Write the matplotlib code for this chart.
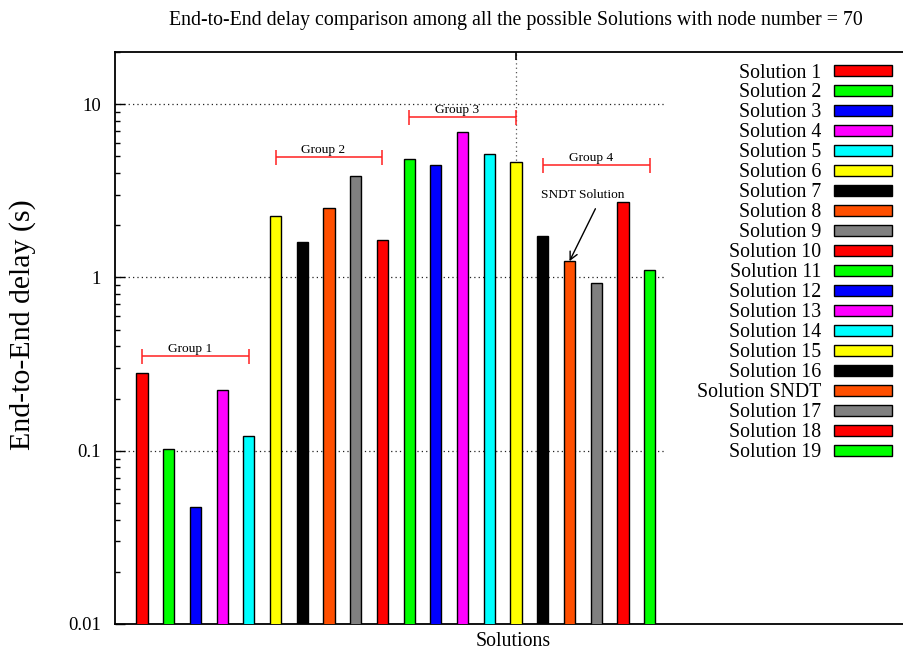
import numpy as np
import matplotlib
matplotlib.use("Agg")
import matplotlib.pyplot as plt

plt.rcParams["font.family"] = ["Liberation Serif", "DejaVu Serif"]

# End-to-end delay (s) per solution, node number = 70
labels = ["Solution %d" % i for i in range(1, 17)] + ["Solution SNDT"] + \
         ["Solution %d" % i for i in range(17, 20)]
delays = [0.279, 0.102, 0.0472, 0.223, 0.121,
          2.26, 1.60, 2.53, 3.85, 1.64,
          4.80, 4.45, 6.87, 5.17, 4.65,
          1.73, 1.24, 0.929, 2.73, 1.10]
palette = ["#ff0000", "#00ff00", "#0000ff", "#ff00ff", "#00ffff",
           "#ffff00", "#000000", "#ff4f00", "#808080"]

# groups: first and last bar index, bracket height
group_names = ["Group 1", "Group 2", "Group 3", "Group 4"]
group_start = [0, 5, 10, 15]
group_end = [4, 9, 14, 19]
group_level = [0.352, 4.95, 8.41, 4.45]

sndt_index = 16

fig = plt.figure(figsize=(9.04, 6.51), dpi=100)
ax = fig.add_axes([0.1275, 0.0415, 0.8725, 0.8787])
ax.set_yscale("log")

x = np.arange(len(delays))
colors = [palette[i % len(palette)] for i in range(len(delays))]
bars = ax.bar(x, delays, width=0.42, color=colors, edgecolor="black",
              linewidth=1.0, zorder=3)
for b, lab in zip(bars, labels):
    b.set_label(lab)

ax.set_xlim(-1, 28.52)
ax.set_ylim(0.01, 20)

# dotted grid, stopping short of the key
ax.hlines([0.1, 1, 10], -1, 19.57, colors="#222222",
          linestyles=(0, (1, 2.5)), linewidth=0.9, zorder=1)
ax.axvline(14, color="#555555", linestyle=(0, (1, 2.5)), linewidth=0.9, zorder=1)

# group brackets
for name, s, e, lvl in zip(group_names, group_start, group_end, group_level):
    ax.errorbar((s + e) / 2, lvl, xerr=(e - s) / 2, color="#ff2020",
                linewidth=1.1, capsize=5.4, capthick=1.1, zorder=4)
    ax.text(s + 0.97, lvl * 1.1, name, fontsize=9.6, ha="left", va="center",
            zorder=5)

# SNDT callout
ax.annotate("", xy=(sndt_index, delays[sndt_index]), xytext=(16.97, 2.49),
            arrowprops=dict(arrowstyle="->", color="black", lw=1.0,
                            shrinkA=0, shrinkB=0, mutation_scale=14),
            zorder=6)
ax.text(16.5, 2.97, "SNDT Solution", fontsize=9.6, ha="center", va="center")

# axes styling
ax.spines["right"].set_visible(False)
for sp in ("top", "bottom", "left"):
    ax.spines[sp].set_linewidth(1.3)
ax.set_xticks([14])
ax.set_xticklabels([""])
ax.tick_params(axis="x", direction="in", top=True, bottom=True, length=6,
               width=1.2)
ax.set_yticks([0.01, 0.1, 1, 10])
ax.set_yticklabels(["0.01", "0.1", "1", "10"])
ax.tick_params(axis="y", which="major", direction="in", length=7, width=1.0,
               pad=10.5, labelsize=13.5)
ax.tick_params(axis="y", which="minor", direction="in", length=3.8, width=1.0)
ax.tick_params(axis="y", right=False, which="both")

ax.set_ylabel("End-to-End delay (s)", fontsize=21.5, va="center")
ax.yaxis.set_label_coords(-0.118, 0.524)
ax.set_xlabel("Solutions", fontsize=14.3, va="center")
ax.xaxis.set_label_coords(0.504, -0.031)

fig.text(516 / 904, 1 - 20 / 651,
         "End-to-End delay comparison among all the possible Solutions with node number = 70",
         fontsize=14.35, ha="center", va="center")

leg = ax.legend(handles=list(bars), labels=labels, loc="upper right",
                bbox_to_anchor=(892 / 904, 1 - 63.5 / 651),
                bbox_transform=fig.transFigure, frameon=False,
                markerfirst=False, fontsize=14.3, handlelength=2.9,
                handleheight=0.45, handletextpad=0.67, labelspacing=0.05,
                borderpad=0, borderaxespad=0)

fig.savefig("out.png", dpi=100)
